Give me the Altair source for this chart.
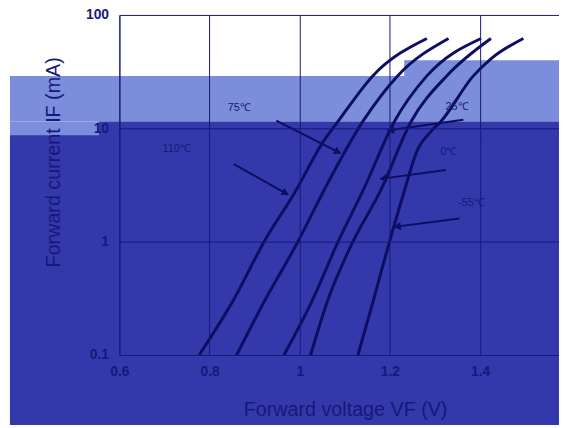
import math
import altair as alt
import pandas as pd

# ---------------- data ----------------
temps = ["110℃", "75℃", "25℃", "0℃", "-55℃"]

if_110 = [0.1, 0.31, 1.0, 2.8, 7.4, 11.5, 29, 62]
vf_110 = [0.777, 0.854, 0.921, 0.991, 1.050, 1.085, 1.162, 1.282]

if_75 = [0.1, 0.31, 1.0, 2.8, 11.5, 29, 62]
vf_75 = [0.860, 0.924, 0.996, 1.053, 1.140, 1.217, 1.330]

if_25 = [0.1, 0.31, 1.0, 2.8, 11.5, 29, 62]
vf_25 = [0.965, 1.029, 1.085, 1.140, 1.210, 1.282, 1.402]

if_0 = [0.1, 0.31, 1.0, 2.8, 11.5, 29, 62]
vf_0 = [1.024, 1.063, 1.118, 1.179, 1.247, 1.326, 1.424]

if_m55 = [0.1, 0.31, 1.0, 2.8, 6.3, 9.4, 11.5, 29, 41, 62]
vf_m55 = [1.129, 1.164, 1.199, 1.232, 1.260, 1.291, 1.313, 1.385, 1.424, 1.496]

# temperature labels (position in data units)
label_text = ["110℃", "75℃", "25℃", "0℃", "-55℃"]
label_vf = [0.727, 0.866, 1.349, 1.331, 1.381]
label_if = [6.6, 15.0, 15.4, 6.15, 2.21]

# arrows: start -> tip (data units)
arrow_v0 = [0.854, 0.948, 1.363, 1.324, 1.354]
arrow_i0 = [4.84, 11.7, 11.9, 4.29, 1.60]
arrow_v1 = [0.974, 1.090, 1.195, 1.179, 1.210]
arrow_i1 = [2.60, 6.03, 9.55, 3.58, 1.35]

x_ticks = [0.6, 0.8, 1.0, 1.2, 1.4]
y_ticks = [0.1, 1, 10, 100]
x_domain = [0.6, 1.575]
y_domain = [0.1, 100]

# ---------------- styling ----------------
W, H = 446, 345
NAVY = "#16187a"
LINE = "#0d0d62"
DARK = "#3339aa"
LIGHT = "#7c8ddb"
FONT = "Liberation Sans"

rows = []
for name, vs, cs in [
    (temps[0], vf_110, if_110),
    (temps[1], vf_75, if_75),
    (temps[2], vf_25, if_25),
    (temps[3], vf_0, if_0),
    (temps[4], vf_m55, if_m55),
]:
    for k, (v, c) in enumerate(zip(vs, cs)):
        rows.append({"temp": name, "vf": v, "cur": c, "k": k})
curves = pd.DataFrame(rows)

labels = pd.DataFrame({"t": label_text, "vf": label_vf, "cur": label_if})

# arrowhead orientation derived from the scales
kx = W / (x_domain[1] - x_domain[0])
ky = H / (math.log10(y_domain[1]) - math.log10(y_domain[0]))
heads = []
for v0, i0, v1, i1 in zip(arrow_v0, arrow_i0, arrow_v1, arrow_i1):
    dx = (v1 - v0) * kx
    dy = -(math.log10(i1) - math.log10(i0)) * ky
    n = math.hypot(dx, dy)
    ux, uy = dx / n, dy / n
    ang = math.degrees(math.atan2(dx, -dy)) % 360
    vc = v1 - 4 * ux / kx
    lc = math.log10(i1) + 4 * uy / ky
    heads.append({"vf": vc, "cur": 10 ** lc, "ang": ang})
heads = pd.DataFrame(heads)
arrows = pd.DataFrame({"v0": arrow_v0, "i0": arrow_i0, "v1": arrow_v1, "i1": arrow_i1})

xs = alt.Scale(domain=x_domain, nice=False, zero=False)
ys = alt.Scale(type="log", domain=y_domain, nice=False)

x_axis = alt.Axis(
    values=x_ticks, format="~g", grid=True, ticks=False, labelFlush=False,
    title="Forward voltage VF (V)", titleX=229, titleY=61, titleAlign="center",
    titleBaseline="alphabetic", labelPadding=10, zindex=1,
)
y_axis = alt.Axis(
    values=y_ticks, format="~g", grid=True, ticks=False, labelFlush=False,
    title="Forward current IF (mA)", titleAngle=270, titleX=-61, titleY=149,
    titleAlign="center", titleBaseline="alphabetic", labelPadding=11, zindex=1,
)

one = alt.Data(values=[{}])


def band(color, x0, x1, y0, y1):
    return alt.Chart(one).mark_rect(color=color).encode(
        x=alt.value(x0), x2=alt.value(x1), y=alt.value(y0), y2=alt.value(y1)
    )


bg = [
    band(LIGHT, 289, W, 46, 62),
    band(LIGHT, -111, W, 62, 108),
    band(LIGHT, -111, -21, 108, 123),
    band(DARK, -111, W, 122, 416),
    band(DARK, -21, W, 108, 124),
]

lines = alt.Chart(curves).mark_line(
    color=LINE, strokeWidth=3, interpolate="monotone"
).encode(
    x=alt.X("vf:Q", scale=xs, axis=x_axis),
    y=alt.Y("cur:Q", scale=ys, axis=y_axis),
    detail="temp:N",
    order="k:Q",
)

arrow_lines = alt.Chart(arrows).mark_rule(color=LINE, strokeWidth=2).encode(
    x=alt.X("v0:Q", scale=xs), y=alt.Y("i0:Q", scale=ys),
    x2="v1:Q", y2="i1:Q",
)

arrow_heads = alt.Chart(heads).mark_point(
    shape="triangle", filled=True, color=LINE, size=70, opacity=1
).encode(
    x=alt.X("vf:Q", scale=xs), y=alt.Y("cur:Q", scale=ys),
    angle=alt.Angle("ang:Q", scale=None),
)

texts = alt.Chart(labels).mark_text(
    font=FONT, fontSize=11, color=NAVY, align="center", baseline="middle"
).encode(
    x=alt.X("vf:Q", scale=xs), y=alt.Y("cur:Q", scale=ys), text="t:N"
)

chart = alt.layer(*bg, lines, arrow_lines, arrow_heads, texts).properties(
    width=W, height=H,
    autosize=alt.AutoSizeParams(type="none"),
    padding={"left": 113, "top": 4, "right": 0, "bottom": 71},
    background="white",
).configure_view(
    stroke=None
).configure_axis(
    gridColor=NAVY, gridWidth=1, domainColor=NAVY, domainWidth=1,
    labelFont=FONT, labelFontSize=14, labelFontWeight="bold", labelColor=NAVY,
    titleFont=FONT, titleFontSize=20, titleFontWeight="normal", titleColor=NAVY,
)

chart.save("out.html", embed_options={"renderer": "svg", "actions": False})
